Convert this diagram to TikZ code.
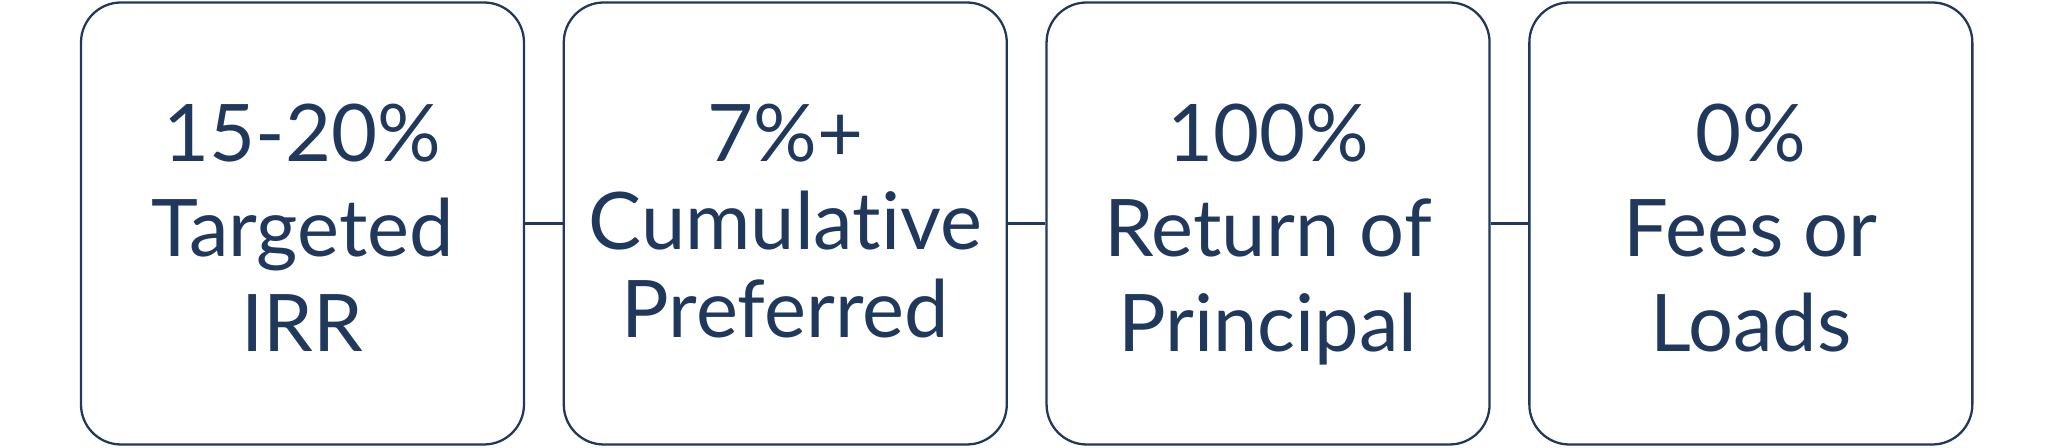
\documentclass[tikz,border=0pt]{standalone}
\usepackage{fontspec}
\setmainfont[Ligatures=NoCommon]{Lato}
\usepackage{xcolor}
\usepackage{tikz}
\usetikzlibrary{positioning}
\definecolor{darknavy}{RGB}{31, 56, 92}
\tikzset{
    stepbox/.style={draw=darknavy, line width=0.65pt, rounded corners=0.4cm, minimum width=4.43cm, minimum height=4.42cm, inner sep=0pt},
    steptext/.style={text=darknavy, align=center, inner sep=0pt, outer sep=0pt, font=\fontsize{22.6}{27}\selectfont},
    link/.style={draw=darknavy, line width=0.65pt}
}

\begin{document}
\begin{tikzpicture}[node distance=0.375cm]
    \useasboundingbox (0,0) rectangle (20.48,4.48);
    % boxes
    \node[stepbox] (irr) at (3.025,2.245) {};
    \node[stepbox, right=of irr] (pref) {};
    \node[stepbox, right=of pref] (principal) {};
    \node[stepbox, right=of principal] (fees) {};
    % texts
    \node[steptext, below=1.025cm of irr.north] (irrtext) {15-20\%\\Targeted\\IRR};
    \node[steptext, below=1.025cm of pref.north, font=\fontsize{22.6}{25}\selectfont] (preftext) {7\%+\\Cumulative\\Preferred};
    \node[steptext, below=1.025cm of principal.north] (principaltext) {100\%\\Return of\\Principal};
    \node[steptext, below=1.025cm of fees.north] (feestext) {0\%\\Fees or\\Loads};
    % connectors
    \draw[link] (irr) -- (pref);
    \draw[link] (pref) -- (principal);
    \draw[link] (principal) -- (fees);
\end{tikzpicture}
\end{document}
